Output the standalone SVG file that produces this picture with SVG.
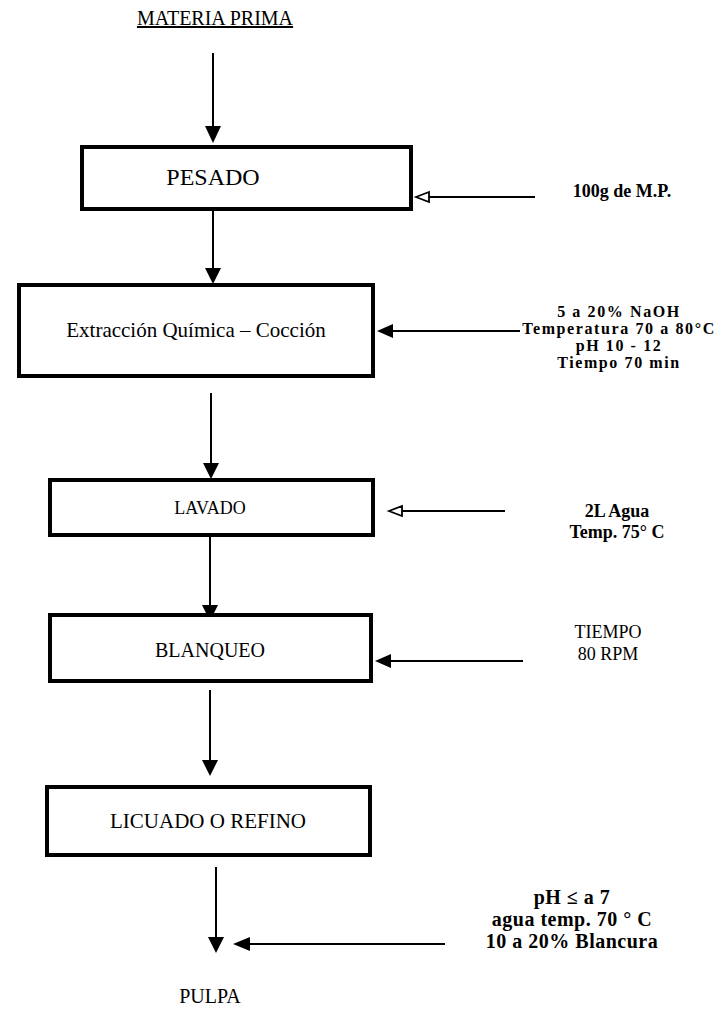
<svg xmlns="http://www.w3.org/2000/svg" width="723" height="1010" viewBox="0 0 723 1010">
<defs>
<style>
.box{fill:#fff;stroke:#000;stroke-width:4}
.ln{stroke:#000;stroke-width:2;fill:none}
.hd{fill:#000;stroke:none}
.oh{fill:#fff;stroke:#000;stroke-width:1.8}
.t{font-family:"Liberation Serif","Tinos","Times New Roman","DejaVu Serif","Noto Serif",serif;fill:#000;text-anchor:middle}
.b{font-weight:bold}
</style>
</defs>
<rect width="723" height="1010" fill="#fff"/>
<g id="connectors">
<line class="ln" x1="213" y1="53" x2="213" y2="128"/>
<polygon class="hd" points="205,126 221,126 213,143"/>
<line class="ln" x1="213" y1="210" x2="213" y2="270"/>
<polygon class="hd" points="205,268 221,268 213,284"/>
<line class="ln" x1="211" y1="393" x2="211" y2="465"/>
<polygon class="hd" points="203,463 219,463 211,479"/>
<line class="ln" x1="210" y1="537" x2="210" y2="607"/>
<polygon class="hd" points="202,605 218,605 210,621"/>
<line class="ln" x1="210" y1="690" x2="210" y2="762"/>
<polygon class="hd" points="202,760 218,760 210,776"/>
<line class="ln" x1="216" y1="867" x2="216" y2="939"/>
<polygon class="hd" points="208,937 224,937 216,953"/>
<line class="ln" x1="429" y1="197" x2="535" y2="197"/>
<polygon class="oh" points="416,197 429,192 429,202"/>
<line class="ln" x1="390" y1="331" x2="520" y2="331"/>
<polygon class="hd" points="377,331 393,324 393,338"/>
<line class="ln" x1="402" y1="511" x2="505" y2="511"/>
<polygon class="oh" points="389,511 402,506 402,516"/>
<line class="ln" x1="388" y1="661" x2="523" y2="661"/>
<polygon class="hd" points="375,661 391,654 391,668"/>
<line class="ln" x1="248" y1="944" x2="445" y2="944"/>
<polygon class="hd" points="233,944 250,937 250,951"/>
</g>
<g id="materia-prima">
<text class="t" x="215" y="25" font-size="20" text-decoration="underline">MATERIA PRIMA</text>
</g>
<g id="pesado">
<rect class="box" x="82" y="147" width="329" height="62"/>
<text class="t" x="213" y="185" font-size="24">PESADO</text>
</g>
<g id="extraccion">
<rect class="box" x="19" y="285" width="354" height="91"/>
<text class="t" x="196" y="337" font-size="21">Extracción Química – Cocción</text>
</g>
<g id="lavado">
<rect class="box" x="50" y="480" width="323" height="55"/>
<text class="t" x="210" y="514" font-size="18">LAVADO</text>
</g>
<g id="blanqueo">
<rect class="box" x="50" y="615" width="321" height="66"/>
<text class="t" x="210" y="657" font-size="20">BLANQUEO</text>
</g>
<g id="licuado">
<rect class="box" x="47" y="787" width="323" height="68"/>
<text class="t" x="208" y="828" font-size="21">LICUADO O REFINO</text>
</g>
<g id="pulpa">
<text class="t" x="210" y="1003" font-size="20">PULPA</text>
</g>
<g id="input-pesado">
<text class="t b" x="622" y="197" font-size="18">100g de M.P.</text>
</g>
<g id="input-extraccion">
<text class="t b" x="619" y="317" font-size="16" letter-spacing="1.6">5 a 20% NaOH</text>
<text class="t b" x="619" y="334" font-size="16" letter-spacing="1.6">Temperatura 70 a 80°C</text>
<text class="t b" x="619" y="351" font-size="16" letter-spacing="1.6">pH  10 - 12</text>
<text class="t b" x="619" y="368" font-size="16" letter-spacing="1.6">Tiempo 70 min</text>
</g>
<g id="input-lavado">
<text class="t b" x="617" y="517" font-size="18">2L Agua</text>
<text class="t b" x="617" y="538" font-size="18">Temp. 75° C</text>
</g>
<g id="input-blanqueo">
<text class="t" x="608" y="638" font-size="18">TIEMPO</text>
<text class="t" x="608" y="660" font-size="18">80 RPM</text>
</g>
<g id="input-pulpa">
<text class="t b" x="572" y="904" font-size="20" letter-spacing="0.5">pH ≤ a 7</text>
<text class="t b" x="572" y="926" font-size="20" letter-spacing="0.5">agua temp. 70 ° C</text>
<text class="t b" x="572" y="948" font-size="20" letter-spacing="0.5">10 a 20% Blancura</text>
</g>
</svg>
